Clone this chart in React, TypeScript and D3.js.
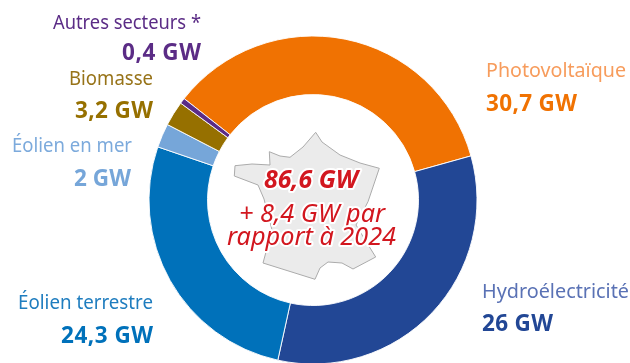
import React from "react";
import * as d3 from "d3";

const categories = ["Photovoltaïque", "Hydroélectricité", "Éolien terrestre", "Éolien en mer", "Biomasse", "Autres secteurs *"];
const capacityLabels = ["30,7 GW", "26 GW", "24,3 GW", "2 GW", "3,2 GW", "0,4 GW"];
// Angular share of each slice as drawn in the picture (degrees)
const drawnShares = [126.2, 118, 96.5, 8.5, 8.8, 2];
const sliceColors = ["#F07202", "#224795", "#0071BA", "#76A6D9", "#967000", "#5B2C86"];
const nameColors = ["#F79C5C", "#5A72B5", "#1F7DBF", "#7CAADC", "#977318", "#5B2C86"];
const valueColors = ["#F07202", "#224795", "#0071BA", "#76A6D9", "#967000", "#5B2C86"];
const namePlacement: [number, number, "start" | "end", number][] = [
  [486, 77, "start", 140], [482, 298, "start", 147], [153, 309, "end", 135],
  [132, 152, "end", 120], [153, 85, "end", 84], [201, 29, "end", 148],
];
const valuePlacement: [number, number, "start" | "end", number][] = [
  [486, 111, "start", 91], [482, 331, "start", 71], [153, 343, "end", 92],
  [131, 186, "end", 57], [153, 118, "end", 78], [201, 60, "end", 79],
];
const franceOutline: [number, number][] = [
  [315.7, 132.3], [322, 142], [340, 155], [360, 163], [379.3, 168.3], [368, 201.7], [356, 225], [367, 243], [375.7, 257],
  [353, 269], [342, 263], [328, 262], [320, 268], [315, 279.3], [263, 263], [272, 230], [264, 199], [258, 185],
  [234.3, 176], [235, 165.7], [252, 164], [270, 165], [269.3, 151.7], [280, 156], [290, 157.3], [303, 147],
];
const centerLines: [string, number, number, number, number, number][] = [
  ["86,6 GW", 311, 188, 94, 700, 25],
  ["+ 8,4 GW par", 312, 222, 146, 400, 24.5],
  ["rapport à 2024", 311.5, 245, 169, 400, 24.5],
];

const FONT = "'Noto Sans', 'Lato', sans-serif";
const CX = 313, CY = 200, R0 = 105.5, R1 = 164;

export default function App() {
  const pie = d3.pie<number>().sort(null).startAngle((-51.8 * Math.PI) / 180).endAngle(((360 - 51.8) * Math.PI) / 180);
  const arc = d3.arc<d3.PieArcDatum<number>>().innerRadius(R0).outerRadius(R1);
  const arcs = pie(drawnShares);
  const line = d3.line().curve(d3.curveLinear);
  return (
    <svg width={630} height={363} style={{ position: "fixed", left: 0, top: 0, fontFamily: FONT }}>
      <g transform={`translate(${CX},${CY})`}>
        {arcs.map((a, i) => (
          <path key={i} d={arc(a) ?? ""} fill={sliceColors[i]} stroke="#fff" strokeWidth={0.9} />
        ))}
      </g>
      <path d={(line(franceOutline) ?? "") + "Z"} fill="#EBEBEB" stroke="#ABABAB" strokeWidth={1} strokeLinejoin="round" />
      {categories.map((c, i) => (
        <text key={c} x={namePlacement[i][0]} y={namePlacement[i][1]} textAnchor={namePlacement[i][2]}
          textLength={namePlacement[i][3]} lengthAdjust="spacingAndGlyphs" fontSize={20} fill={nameColors[i]}>{c}</text>
      ))}
      {capacityLabels.map((c, i) => (
        <text key={c} x={valuePlacement[i][0]} y={valuePlacement[i][1]} textAnchor={valuePlacement[i][2]}
          textLength={valuePlacement[i][3]} lengthAdjust="spacing" fontSize={22.5} fontWeight={700} fill={valueColors[i]}>{c}</text>
      ))}
      {centerLines.map(([t, x, y, w, weight, size]) => (
        <text key={t} x={x} y={y} textAnchor="middle" textLength={w} lengthAdjust="spacingAndGlyphs" fontSize={size}
          fontStyle="italic" fontWeight={weight} fill="#D2171F" stroke="#fff" strokeWidth={4} paintOrder="stroke" strokeLinejoin="round">{t}</text>
      ))}
    </svg>
  );
}
